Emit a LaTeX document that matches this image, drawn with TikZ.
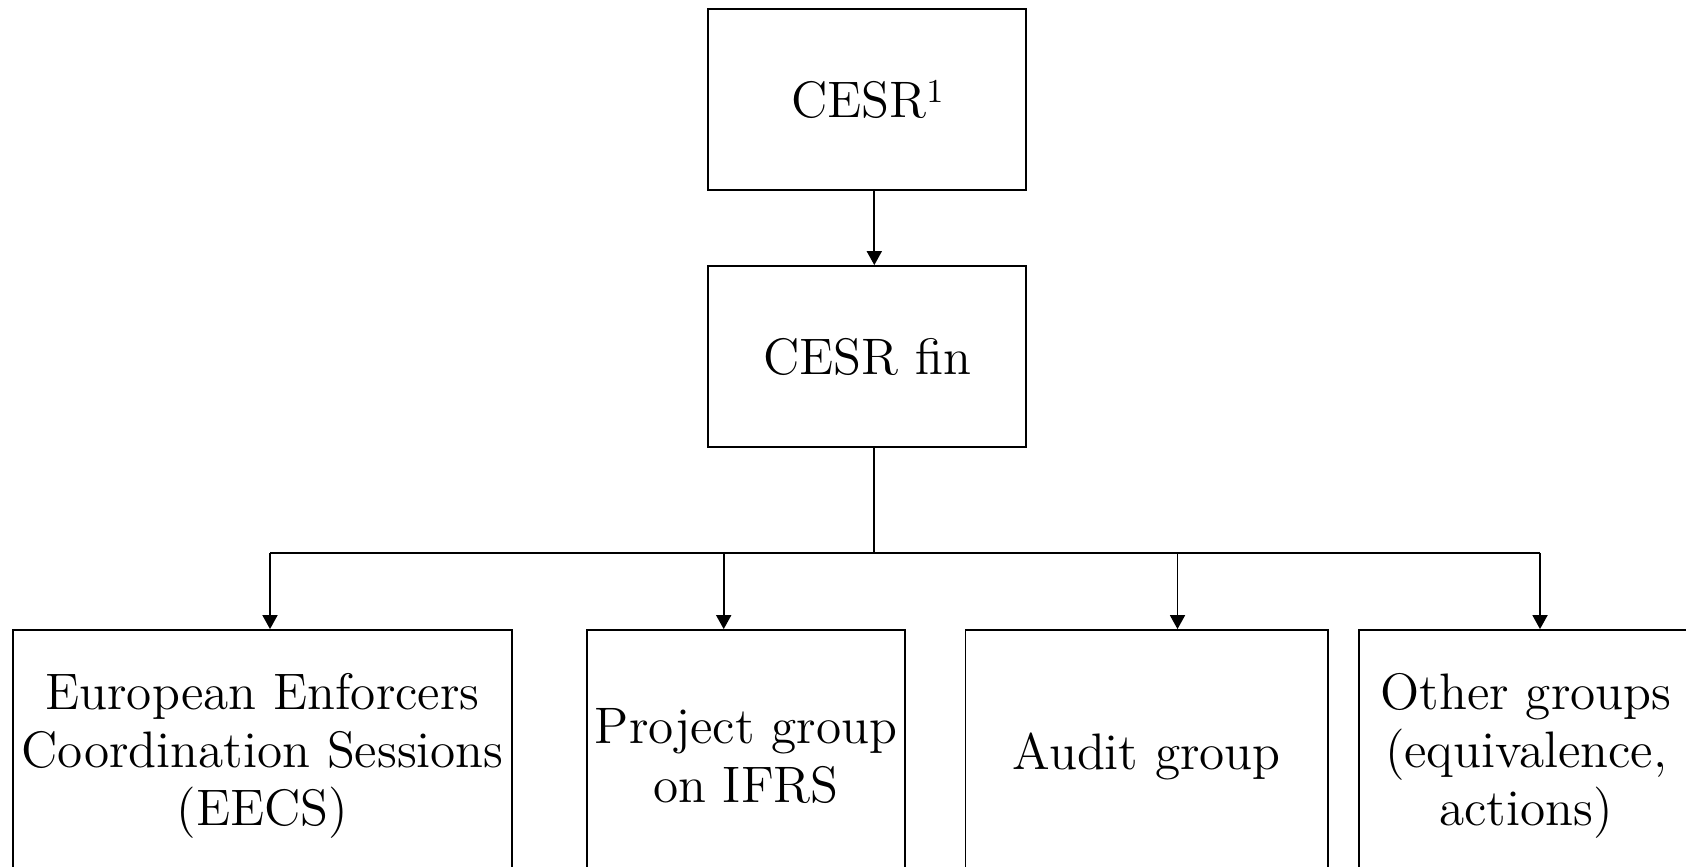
\documentclass[tikz,border=0pt]{standalone}
\usepackage{tikz}
\usetikzlibrary{arrows.meta,positioning}
\tikzset{
  orgbox/.style={draw=black,line width=0.5pt,fill=white,align=center,inner sep=0pt,font=\fontsize{14.6}{16.6}\selectfont},
  topbox/.style={orgbox,minimum width=3.177cm,minimum height=1.81cm},
  grpbox/.style={orgbox,minimum height=2.52cm},
  ar/.style={-{Triangle[length=1.4mm,width=1.5mm]},draw=black,line width=0.5pt},
}
\begin{document}
\begin{tikzpicture}
  \useasboundingbox (0,0) rectangle (16.86,8.67);
  \clip (0,0) rectangle (16.86,8.67);
  % top of the chart
  \node[topbox] (cesr) at (8.672,7.674) {CESR\raisebox{0.7ex}{\fontsize{9.5}{10}\selectfont 1}};
  \node[topbox] (cesrfin) at (8.672,5.105) {CESR fin};
  % working groups
  \node[grpbox,minimum width=4.99cm] (eecs) at (2.625,1.11) {European Enforcers\\Coordination Sessions\\(EECS)};
  \node[grpbox,minimum width=3.18cm] (ifrs) at (7.46,1.11) {Project group\\on IFRS};
  \node[grpbox,minimum width=3.624cm] (audit) at (11.468,1.11) {Audit group};
  \node[grpbox,minimum width=3.34cm] (other) at (15.26,1.11) {Other groups\\(equivalence,\\actions)};
  % connectors
  \coordinate (bar) at (8.743,3.14);
  \draw[ar] (bar |- cesr.south) -- (bar |- cesrfin.north);
  \draw[line width=0.5pt] (bar |- cesrfin.south) -- (bar);
  \foreach \n/\x in {eecs/2.70, ifrs/7.237, audit/11.775, other/15.40} {
    \coordinate (t\n) at (\x,3.14);
    \draw[ar] (t\n) -- (t\n |- \n.north);
  }
  \draw[line width=0.5pt] (teecs) -- (tother);
\end{tikzpicture}
\end{document}
